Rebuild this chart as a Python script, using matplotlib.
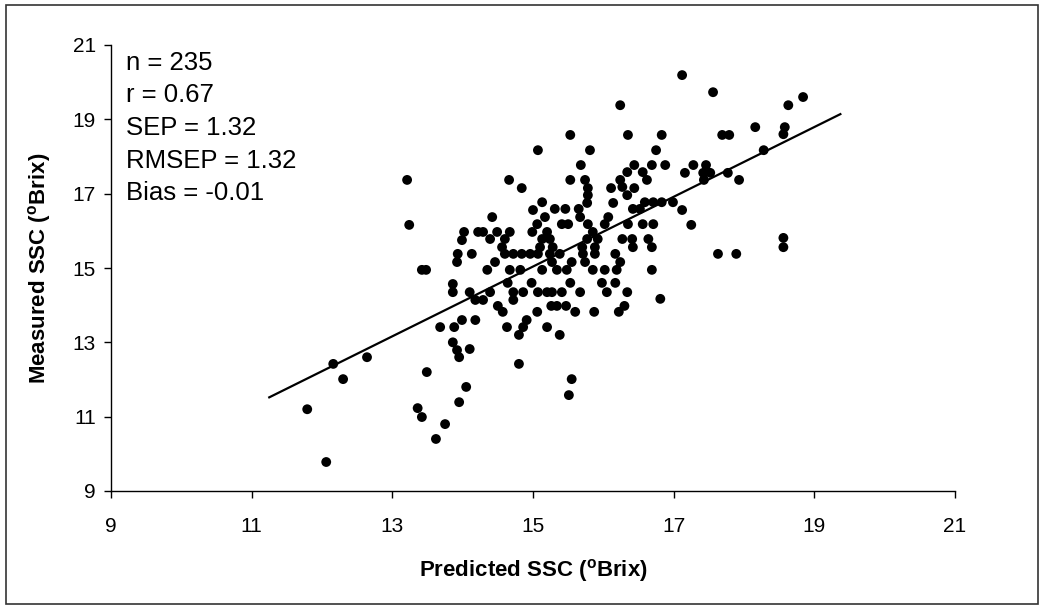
import matplotlib
matplotlib.use("Agg")
import matplotlib.pyplot as plt
from matplotlib.patches import Rectangle

plt.rcParams["font.family"] = ["Liberation Sans", "DejaVu Sans"]
plt.rcParams["mathtext.fontset"] = "custom"
plt.rcParams["mathtext.rm"] = "Liberation Sans"
plt.rcParams["mathtext.bf"] = "Liberation Sans:bold"

# predicted vs measured SSC
predicted = [
    13.21, 13.24, 14.02, 13.99, 14.22, 13.93, 14.13, 13.92, 13.42, 13.48,
    12.16, 12.64, 12.30, 11.79, 12.06, 13.49, 13.36, 13.42, 13.75, 13.62,
    13.95, 14.05, 14.10, 13.95, 13.92, 13.86, 13.68, 13.88, 13.99, 14.18,
    13.86, 13.86, 14.10, 14.18,
    16.81, 14.80, 15.55, 15.51, 15.38, 14.80, 14.63, 15.20, 14.91, 14.86,
    15.06, 15.60, 15.87, 16.22, 16.30, 15.26, 15.34, 15.47, 14.50, 14.57,
    14.29, 14.39, 14.72, 14.86, 15.07, 15.20, 15.27, 15.41, 15.67, 16.05,
    16.34, 14.72, 14.64, 14.98, 15.53, 15.98, 16.17,
    17.56, 18.84, 18.63, 18.16, 17.69, 17.79, 18.58, 18.56, 18.28, 17.28,
    17.16, 17.46, 17.42, 17.52, 17.43, 17.77, 17.93, 16.99, 17.12, 17.25,
    18.56, 18.56, 17.63, 17.89, 17.12,
    16.24, 15.53, 16.35, 16.83, 15.07, 15.81, 16.75, 15.68, 16.44, 16.69,
    16.88, 16.34, 16.56, 14.66, 15.53, 15.74, 16.24, 16.62, 14.84, 15.78,
    16.11, 16.27, 16.44, 15.78, 16.34, 15.77, 15.13, 16.14, 16.59, 16.71,
    16.83, 15.00, 15.31, 15.46, 15.65, 16.42, 16.52, 14.42, 15.17, 15.67,
    16.07, 15.06, 15.41, 15.50, 15.78, 16.02, 16.35, 16.56, 16.71, 14.29,
    14.49, 14.67, 14.99, 15.20, 15.85, 14.39, 14.60, 15.13, 15.24, 15.77,
    15.92, 16.27, 16.41, 16.64, 14.56, 15.10, 15.28, 15.70, 15.88, 16.42,
    16.69, 14.60, 14.72, 14.84, 14.96, 15.07, 15.24, 15.38, 15.71, 15.88,
    16.17, 14.46, 15.27, 15.55, 15.74, 16.24, 14.35, 14.67, 14.82, 15.13,
    15.34, 15.48, 15.85, 16.02, 16.19, 16.69,
]
measured = [
    17.37, 16.16, 15.97, 15.75, 15.97, 15.38, 15.38, 15.16, 14.95, 14.95,
    12.42, 12.60, 12.01, 11.20, 9.78, 12.20, 11.23, 10.99, 10.80, 10.40,
    11.39, 11.80, 12.82, 12.60, 12.79, 13.00, 13.41, 13.41, 13.60, 13.60,
    14.57, 14.35, 14.35, 14.14,
    14.17, 12.42, 12.01, 11.58, 13.20, 13.20, 13.41, 13.41, 13.60, 13.41,
    13.82, 13.82, 13.82, 13.82, 13.98, 13.98, 13.98, 13.98, 13.98, 13.82,
    14.14, 14.35, 14.35, 14.35, 14.35, 14.35, 14.35, 14.35, 14.35, 14.35,
    14.35, 14.14, 14.60, 14.60, 14.60, 14.60, 14.60,
    19.73, 19.60, 19.38, 18.79, 18.58, 18.58, 18.79, 18.60, 18.17, 17.77,
    17.56, 17.77, 17.56, 17.56, 17.37, 17.56, 17.37, 16.77, 16.56, 16.16,
    15.81, 15.56, 15.38, 15.38, 20.19,
    19.38, 18.58, 18.58, 18.58, 18.17, 18.17, 18.17, 17.77, 17.77, 17.77,
    17.77, 17.58, 17.58, 17.37, 17.37, 17.37, 17.37, 17.37, 17.15, 17.15,
    17.15, 17.18, 17.15, 16.96, 16.96, 16.75, 16.77, 16.75, 16.77, 16.77,
    16.77, 16.56, 16.59, 16.59, 16.59, 16.59, 16.59, 16.37, 16.37, 16.37,
    16.37, 16.18, 16.18, 16.18, 16.18, 16.18, 16.18, 16.18, 16.18, 15.97,
    15.97, 15.97, 15.97, 15.97, 15.97, 15.78, 15.78, 15.78, 15.78, 15.78,
    15.78, 15.78, 15.78, 15.78, 15.56, 15.56, 15.56, 15.56, 15.56, 15.56,
    15.56, 15.38, 15.38, 15.38, 15.38, 15.38, 15.38, 15.38, 15.38, 15.38,
    15.38, 15.16, 15.16, 15.16, 15.16, 15.16, 14.95, 14.95, 14.95, 14.95,
    14.95, 14.95, 14.95, 14.95, 14.95, 14.95,
]

# regression line end points
fit_x = [11.25, 19.37]
fit_y = [11.52, 19.14]

stats = ["n = 235", "r = 0.67", "SEP = 1.32", "RMSEP = 1.32", "Bias = -0.01"]
ticks = [9, 11, 13, 15, 17, 19, 21]

W, H = 1044, 609
fig = plt.figure(figsize=(W / 100, H / 100), dpi=100)
fig.patches.append(Rectangle((6 / W, 5 / H), 1 - 12 / W, 1 - 10 / H,
                             transform=fig.transFigure, fill=False,
                             edgecolor="#333333", lw=1.2))

ax = fig.add_axes([111 / W, 1 - 491 / H, (955 - 111) / W, (491 - 45) / H])
ax.scatter(predicted, measured, s=50, color="black", edgecolors="none",
           zorder=3)
ax.plot(fit_x, fit_y, color="black", lw=1.6, zorder=2)

ax.set_xlim(9, 21)
ax.set_ylim(9, 21)
ax.set_xticks(ticks)
ax.set_yticks(ticks)
for s in ("top", "right"):
    ax.spines[s].set_visible(False)
for s in ("left", "bottom"):
    ax.spines[s].set_linewidth(1.0)
ax.tick_params(axis="x", direction="out", length=5, width=1.0, pad=14,
               labelsize=15)
ax.tick_params(axis="y", direction="out", length=5, width=1.0, pad=6,
               labelsize=15)
ax.set_xlabel(r"Predicted SSC ($^{\mathbf{o}}$Brix)", fontsize=16,
              fontweight="bold", labelpad=15)
ax.set_ylabel(r"Measured SSC ($^{\mathbf{o}}$Brix)", fontsize=16,
              fontweight="bold", labelpad=14)

for i, line in enumerate(stats):
    fig.text(126 / W, 1 - (63 + i * 32.5) / H, line, fontsize=18.5,
             va="center", ha="left")

fig.savefig("out.png", dpi=100)
